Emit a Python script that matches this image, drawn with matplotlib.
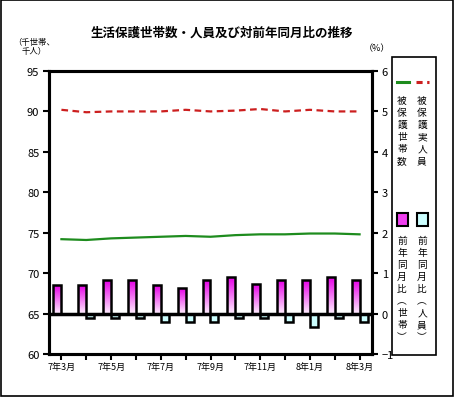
import numpy as np
import matplotlib
matplotlib.use("Agg")
import matplotlib.pyplot as plt
from matplotlib.patches import Rectangle
from matplotlib.lines import Line2D
from matplotlib.colors import LinearSegmentedColormap

plt.rcParams["font.family"] = ["Noto Sans CJK JP", "DejaVu Sans"]

# ── data ─────────────────────────────────────────────
months = ["7年3月", "7年4月", "7年5月", "7年6月", "7年7月", "7年8月", "7年9月",
          "7年10月", "7年11月", "7年12月", "8年1月", "8年2月", "8年3月"]
households = [74.2, 74.1, 74.3, 74.4, 74.5, 74.6, 74.5, 74.7, 74.8, 74.8, 74.9, 74.9, 74.8]
persons = [90.2, 89.9, 90.0, 90.0, 90.0, 90.2, 90.0, 90.1, 90.3, 90.0, 90.2, 90.0, 90.0]
yoy_households = [0.70, 0.70, 0.82, 0.82, 0.70, 0.64, 0.82, 0.90, 0.72, 0.82, 0.82, 0.90, 0.82]
yoy_persons = [0.0, -0.10, -0.10, -0.10, -0.22, -0.22, -0.22, -0.10, -0.10, -0.22, -0.33, -0.10, -0.22]

W, H = 458, 402
GREEN = "#1E8C1E"
RED = "#CC1F1F"
CYAN = "#CCFFFF"

def fx(px):
    return px / W

def fy(py):
    return 1 - py / H

fig = plt.figure(figsize=(W / 100, H / 100), dpi=100)
ax = fig.add_axes([fx(49), fy(355), (372 - 49) / W, (355 - 72) / H])
ax2 = ax.twinx()

x = np.arange(len(months))

# lines (left axis)
ax.plot(x, households, color=GREEN, lw=1.6, zorder=3)
ax.plot(x, persons, color=RED, lw=1.6, ls=(0, (3, 2)), zorder=3)
ax.set_ylim(60, 95)
ax.set_yticks(range(60, 96, 5))
ax.set_xlim(-0.5, len(months) - 0.5)
ax.set_xticks(x)
ax.set_xticklabels([m if i % 2 == 0 else "" for i, m in enumerate(months)], fontsize=6.5)

# bars (right axis)
bw = 0.32
cmap = LinearSegmentedColormap.from_list("pink", ["#FFF0FF", "#E600E6"])
grad = np.linspace(0, 1, 64).reshape(-1, 1)
pink = ax2.bar(x - bw / 2, yoy_households, bw, facecolor="none",
               edgecolor="black", lw=1.8, zorder=2)
for b in pink:
    x0, y0 = b.get_x(), b.get_y()
    im = ax2.imshow(grad, cmap=cmap, origin="lower", aspect="auto",
                    extent=(x0, x0 + b.get_width(), y0, y0 + b.get_height()), zorder=1)
    im.set_clip_path(b)
ax2.bar(x + bw / 2, yoy_persons, bw, facecolor=CYAN, edgecolor="black", lw=1.8, zorder=2)
ax2.axhline(0, color="black", lw=2.5, zorder=3)
ax2.set_ylim(-1, 6)
ax2.set_xlim(-0.5, len(months) - 0.5)
ax2.set_yticks(range(-1, 7))

for a in (ax, ax2):
    for s in a.spines.values():
        s.set_linewidth(2.2)
ax.tick_params(axis="y", labelsize=8, length=4, width=1.5, pad=3)
ax.tick_params(axis="x", length=4, width=1.5, pad=2)
ax2.tick_params(axis="y", labelsize=8, length=4, width=1.5, pad=3)

# titles / units
fig.text(fx(222), fy(33), "生活保護世帯数・人員及び対前年同月比の推移",
         ha="center", va="center", fontsize=9, fontweight="bold")
fig.text(fx(34), fy(47), "（千世帯、\n千人）", ha="center", va="center",
         fontsize=6, linespacing=1.0)
fig.text(fx(377), fy(49), "（%）", ha="center", va="center", fontsize=6.5)

# legend box
fig.add_artist(Rectangle((fx(392), fy(356)), (436 - 392) / W, (356 - 58) / H,
                         transform=fig.transFigure, facecolor="white",
                         edgecolor="black", lw=1.2))
fig.add_artist(Line2D([fx(397), fx(409)], [fy(83), fy(83)], color=GREEN, lw=2.2,
                      transform=fig.transFigure))
fig.add_artist(Line2D([fx(416), fx(429)], [fy(83), fy(83)], color=RED, lw=2.2,
                      ls=(0, (2, 1.5)), transform=fig.transFigure))
fig.add_artist(Rectangle((fx(397), fy(227)), 11 / W, 13 / H, transform=fig.transFigure,
                         facecolor="#F040F0", edgecolor="black", lw=1.5))
fig.add_artist(Rectangle((fx(417), fy(227)), 11 / W, 13 / H, transform=fig.transFigure,
                         facecolor=CYAN, edgecolor="black", lw=1.5))

def vtext(px, py, s):
    fig.text(fx(px), fy(py), "\n".join(s), ha="center", va="top",
             fontsize=7, linespacing=1.25)

vtext(402, 96, "被保護世帯数")
vtext(422, 96, "被保護実人員")
vtext(402, 236, "前年同月比︵世帯︶")
vtext(422, 236, "前年同月比︵人員︶")

# outer frame
fig.add_artist(Rectangle((fx(1), fy(397)), 452 / W, 396 / H, transform=fig.transFigure,
                         facecolor="none", edgecolor="black", lw=1.2))

fig.savefig("out.png", dpi=100)
